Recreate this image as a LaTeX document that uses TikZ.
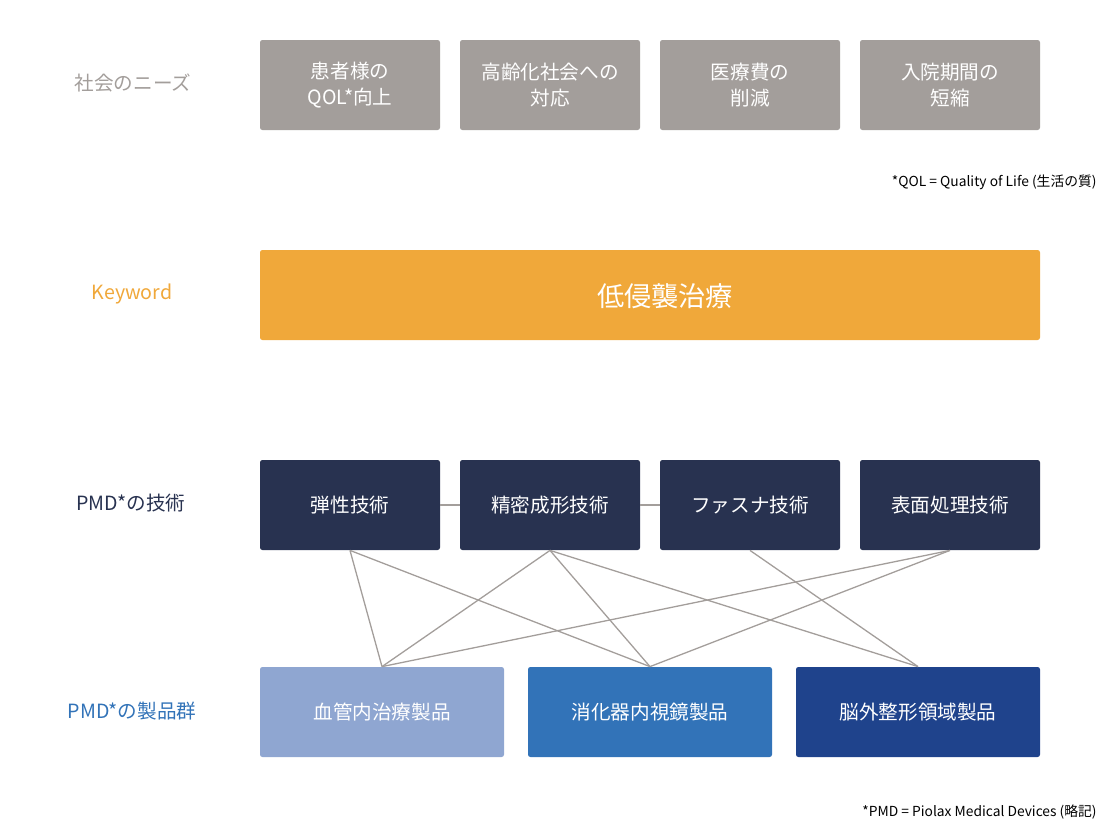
\documentclass[tikz,border=0pt]{standalone}
\usepackage{fontspec}
\setmainfont{Noto Sans CJK JP}
\definecolor{needgray}{HTML}{A39E9B}
\definecolor{keyorange}{HTML}{F0A83A}
\definecolor{technavy}{HTML}{283250}
\definecolor{prodlight}{HTML}{8FA6D1}
\definecolor{prodmid}{HTML}{3273B8}
\definecolor{proddark}{HTML}{1F438C}
\begin{document}
\begin{tikzpicture}[
    x=0.5pt, y=-0.5pt,
    every node/.style={font=\fontsize{9.8pt}{13pt}\selectfont},
    box/.style={
        rounded corners=1.2pt,
        text=white,
        align=center,
        minimum height=45pt
    },
    needbox/.style={box, fill=needgray, minimum width=90pt},
    techbox/.style={box, fill=technavy, minimum width=90pt},
    prodbox/.style={box, minimum width=122pt},
    sidelabel/.style={font=\fontsize{9.8pt}{11pt}\selectfont},
    note/.style={font=\fontsize{6.9pt}{8pt}\selectfont, anchor=east, inner sep=0pt},
    link/.style={draw=needgray, line width=0.65pt}
]
    \useasboundingbox (0,0) rectangle (1100,826);

    % left labels
    \node[sidelabel, text=needgray] (lneed) at (133,83) {社会のニーズ};
    \node[sidelabel, text=keyorange] (lkey) at (132,294) {Keyword};
    \node[sidelabel, text=technavy] (ltech) at (131,503) {PMD*の技術};
    \node[sidelabel, text=prodmid] (lprod) at (132,711) {PMD*の製品群};

    % needs
    \node[needbox] (need1) at (350,85) {患者様の\\QOL*向上};
    \node[needbox] (need2) at (550,85) {高齢化社会への\\対応};
    \node[needbox] (need3) at (750,85) {医療費の\\削減};
    \node[needbox] (need4) at (950,85) {入院期間の\\短縮};

    \node[note] (qolnote) at (1097,182) {*QOL = Quality of Life (生活の質)};

    % keyword
    \node[box, fill=keyorange, minimum width=390pt] (key) at (650,295) {};
    \node[text=white, font=\fontsize{13.6pt}{16pt}\selectfont] (keytext) at (665,296) {低侵襲治療};

    % technologies
    \node[techbox] (tech1) at (350,505) {弾性技術};
    \node[techbox] (tech2) at (550,505) {精密成形技術};
    \node[techbox] (tech3) at (750,505) {ファスナ技術};
    \node[techbox] (tech4) at (950,505) {表面処理技術};

    \draw[link] (tech1.east) -- (tech2.west);
    \draw[link] (tech2.east) -- (tech3.west);

    % products
    \node[prodbox, fill=prodlight] (prod1) at (382,712) {血管内治療製品};
    \node[prodbox, fill=prodmid] (prod2) at (650,712) {消化器内視鏡製品};
    \node[prodbox, fill=proddark] (prod3) at (918,712) {脳外整形領域製品};

    % links tech -> products
    \foreach \t/\p in {1/1,1/2,2/1,2/2,2/3,3/3,4/1,4/2}{
        \draw[link] (tech\t.south) -- (prod\p.north);
    }

    \node[note] (pmdnote) at (1097,812) {*PMD = Piolax Medical Devices (略記)};

\end{tikzpicture}
\end{document}
